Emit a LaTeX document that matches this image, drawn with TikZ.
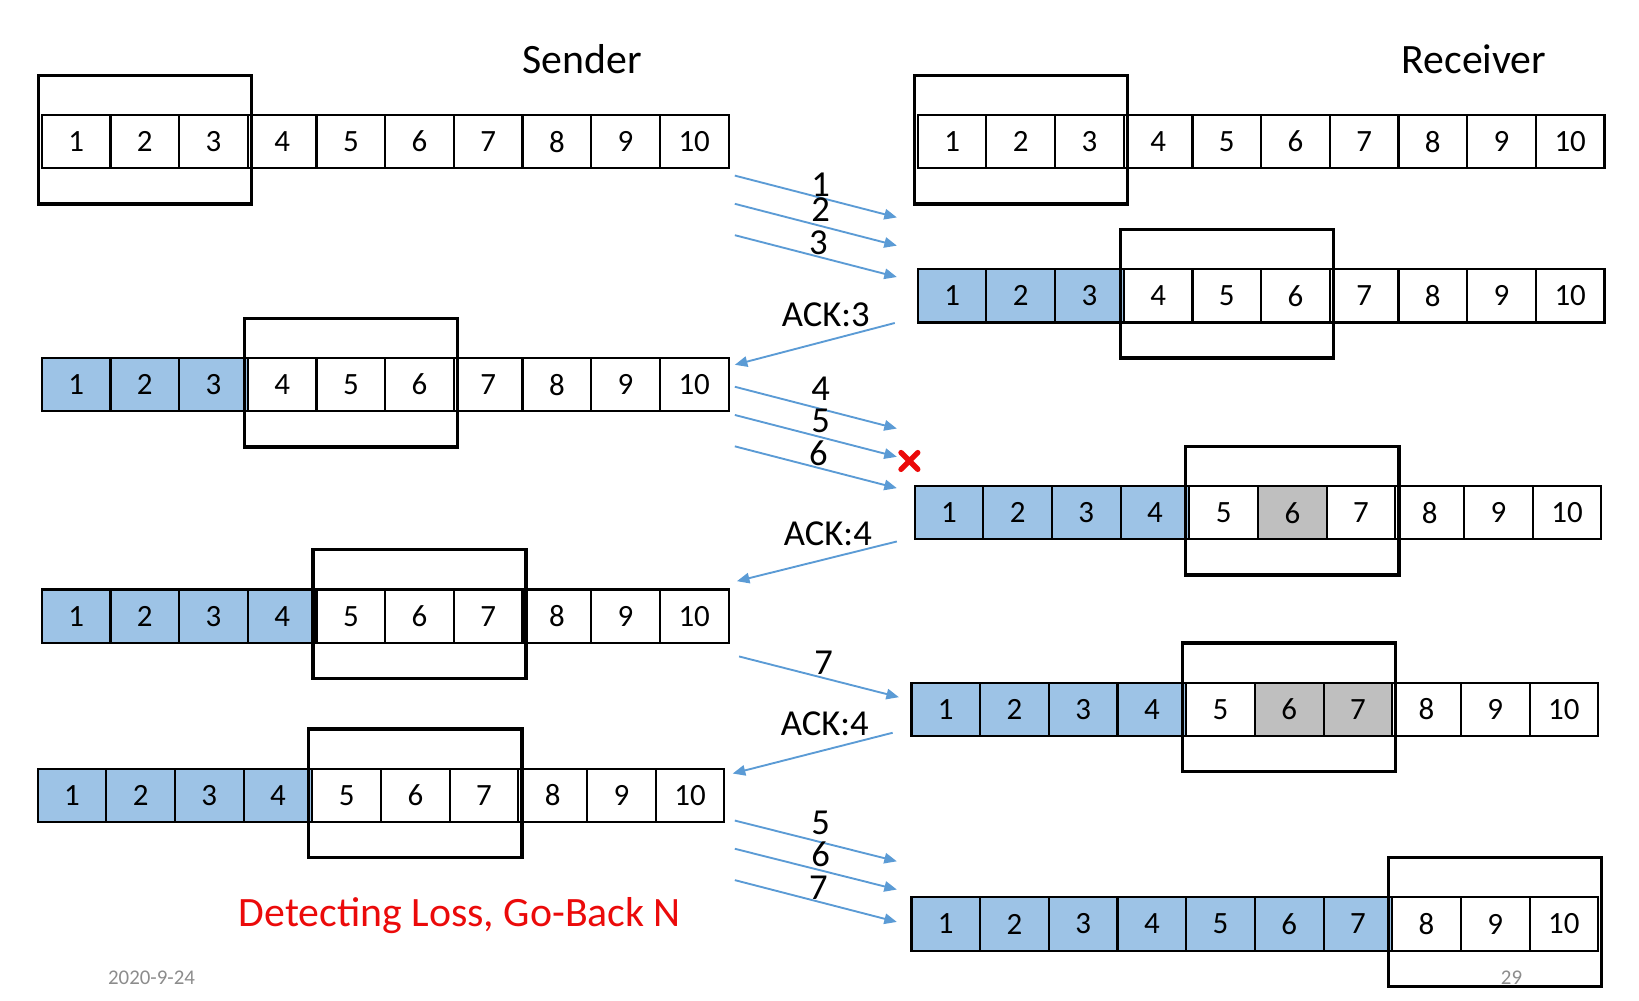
\documentclass[tikz,border=0pt]{standalone}
\usepackage{fontspec}
\setmainfont{Carlito}
\usetikzlibrary{arrows.meta, fit}

\definecolor{ackblue}{HTML}{9DC3E6}
\definecolor{lostgray}{HTML}{BFBFBF}
\definecolor{arrowblue}{HTML}{5B9BD5}
\definecolor{lossred}{RGB}{235,10,10}
\definecolor{footgray}{HTML}{8C8C8C}

\begin{document}
\begin{tikzpicture}[x=0.5pt, y=-0.5pt,
    cell/.style={draw, line width=1pt, minimum width=32.85pt, minimum height=25.5pt,
                 inner sep=0pt, font=\fontsize{14.8}{16}\selectfont},
    window/.style={draw, line width=1.6pt, inner xsep=1.2pt, inner ysep=17.5pt, yshift=1pt},
    pkt/.style={-{Triangle[length=6pt,width=5pt]}, line width=0.9pt, arrowblue},
    lbl/.style={font=\fontsize{17.5}{19}\selectfont, inner sep=0pt}]

    \useasboundingbox (0,0) rectangle (1568,957);

    % Titles
    \node[font=\fontsize{20}{22}\selectfont] (sender) at (557,57) {Sender};
    \node[font=\fontsize{20}{22}\selectfont] (receiver) at (1410,57) {Receiver};

    % Sender, first state
    \foreach \n in {1,...,10}
        \node[cell] (s1c\n) at (40+65.7*\n-32.85, 135.5) {\n};
    \node[window, fit=(s1c1)(s1c3)] (s1win) {};

    % Receiver, first state
    \foreach \n in {1,...,10}
        \node[cell] (r1c\n) at (878+65.7*\n-32.85, 135.5) {\n};
    \node[window, fit=(r1c1)(r1c3)] (r1win) {};

    % Receiver, 1-3 received
    \foreach \n in {1,...,10}{
        \ifnum\n<4 \def\f{ackblue}\else\def\f{white}\fi
        \node[cell, fill=\f] (r2c\n) at (878+65.7*\n-32.85, 283) {\n};
    }
    \node[window, fit=(r2c4)(r2c6)] (r2win) {};

    % Sender, ACK 3 received
    \foreach \n in {1,...,10}{
        \ifnum\n<4 \def\f{ackblue}\else\def\f{white}\fi
        \node[cell, fill=\f] (s2c\n) at (40+65.7*\n-32.85, 368) {\n};
    }
    \node[window, fit=(s2c4)(s2c6)] (s2win) {};

    % Receiver, 5 lost
    \foreach \n in {1,...,10}{
        \ifnum\n<5 \def\f{ackblue}\else
            \ifnum\n=6 \def\f{lostgray}\else\def\f{white}\fi
        \fi
        \node[cell, fill=\f] (r3c\n) at (875+65.7*\n-32.85, 490.5) {\n};
    }
    \node[window, fit=(r3c5)(r3c7)] (r3win) {};

    % Sender, ACK 4 received
    \foreach \n in {1,...,10}{
        \ifnum\n<5 \def\f{ackblue}\else\def\f{white}\fi
        \node[cell, fill=\f] (s3c\n) at (40+65.7*\n-32.85, 589.5) {\n};
    }
    \node[window, fit=(s3c5)(s3c7)] (s3win) {};

    % Receiver, 7 buffered
    \foreach \n in {1,...,10}{
        \ifnum\n<5 \def\f{ackblue}\else
            \ifnum\n>5 \ifnum\n<8 \def\f{lostgray}\else\def\f{white}\fi
            \else\def\f{white}\fi
        \fi
        \node[cell, fill=\f] (r4c\n) at (872+65.7*\n-32.85, 678.5) {\n};
    }
    \node[window, fit=(r4c5)(r4c7)] (r4win) {};

    % Sender, duplicate ACK 4
    \foreach \n in {1,...,10}{
        \ifnum\n<5 \def\f{ackblue}\else\def\f{white}\fi
        \node[cell, fill=\f] (s4c\n) at (36+65.7*\n-32.85, 761) {\n};
    }
    \node[window, fit=(s4c5)(s4c7)] (s4win) {};

    % Receiver, all resent
    \foreach \n in {1,...,10}{
        \ifnum\n<8 \def\f{ackblue}\else\def\f{white}\fi
        \node[cell, fill=\f] (r5c\n) at (872+65.7*\n-32.85, 884) {\n};
    }
    \node[window, fit=(r5c8)(r5c10)] (r5win) {};

    % Packets and ACKs
    \foreach \k/\xa/\ya/\xb/\yb/\xl/\yl/\t in {
            p1/703/168/858/208/785/177/1,
            p2/703/195/858/235/785/201/2,
            p3/703/225/858/265/783/232/3,
            a3/856/309/703/349/790/301/ACK:3,
            p4/703/370/858/410/785/372/4,
            p5/703/397/858/437/785/403/5,
            p6/703/427/858/467/783/434/6,
            a4/858/518/705/556/792/511/ACK:4,
            p7/707/628/860/667/788/634/7,
            b4/854/701/701/740/789/692/ACK:4,
            q5/703/785/858/824/785/787/5,
            q6/703/812/858/851/785/817/6,
            q7/703/842/858/882/783/849/7}{
        \coordinate (\k-from) at (\xa,\ya);
        \coordinate (\k-to) at (\xb,\yb);
        \draw[pkt] (\k-from) -- (\k-to);
        \node[lbl] (\k-lbl) at (\xl,\yl) {\t};
    }

    % Loss mark
    \coordinate (loss) at (870,441);
    \draw[lossred, line width=2.6pt, line cap=round]
        ([xshift=-4pt, yshift=4pt]loss) -- ([xshift=4pt, yshift=-4pt]loss)
        ([xshift=4pt, yshift=4pt]loss) -- ([xshift=-4pt, yshift=-4pt]loss);

    % Caption
    \node[font=\fontsize{20}{22}\selectfont, lossred] (caption) at (440,876) {Detecting Loss, Go-Back N};

    % Footer
    \node[font=\fontsize{10}{12}\selectfont, footgray] (date) at (145,935) {2020-9-24};
    \node[font=\fontsize{10}{12}\selectfont, footgray] (page) at (1446,935) {29};

\end{tikzpicture}
\end{document}
